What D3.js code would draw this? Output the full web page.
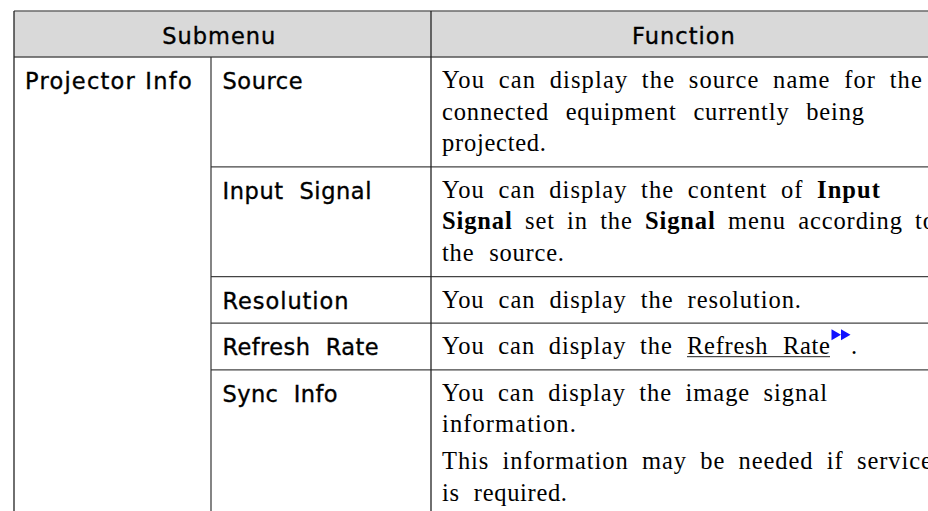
<!DOCTYPE html>
<html><head><meta charset="utf-8">
<script src="https://cdn.jsdelivr.net/npm/d3@7"></script>
<style>body{margin:0;background:#fff;overflow:hidden}</style>
</head><body><svg id="c" width="928" height="511"></svg>
<script>
// ---- data ----
const headers = ["Submenu", "Function"];
const groupLabels = ["Projector Info"];
const submenuItems = ["Source", "Input  Signal", "Resolution", "Refresh  Rate", "Sync  Info"];
// each line: array of runs [text, style]; "para" marks start of new paragraph
const functionLines = [
  [
    {runs: [["You can display the source name for the"]]},
    {runs: [["connected equipment currently being"]]},
    {runs: [["projected."]]}
  ],
  [
    {runs: [["You can display the content of "], ["Input", "b"]]},
    {runs: [["Signal", "b"], [" set in the "], ["Signal", "b"], [" menu according to"]]},
    {runs: [["the source."]]}
  ],
  [
    {runs: [["You can display the resolution."]]}
  ],
  [
    {runs: [["You can display the "], ["Refresh Rate", "u"], ["."]], icon: true}
  ],
  [
    {runs: [["You can display the image signal"]]},
    {runs: [["information."]]},
    {runs: [["This information may be needed if service"]], para: true},
    {runs: [["is required."]]}
  ]
];

// ---- layout ----
const W = 928, H = 511;
const svg = d3.select("#c");
const lineH = 31.6, rowPad = 15, paraGap = 5, headH = 46;
const top0 = 11;
const colEdges = d3.scaleOrdinal(["left", "c2", "c3", "right"], [14, 211, 431, 937]);

const rowHeights = functionLines.map(ls => ls.length * lineH + rowPad + (ls.some(l => l.para) ? paraGap : 0));
const rowTops = [];
rowHeights.reduce((acc, h) => { rowTops.push(acc); return acc + h; }, top0 + headH);
const yRow = d3.scaleOrdinal(submenuItems, rowTops);
const rowBottom = d3.scaleOrdinal(submenuItems, rowTops.map((t, i) => t + rowHeights[i]));

// measured widths (for spacing fit)
const sansWidths = {"Submenu": 113, "Function": 104, "Projector Info": 168, "Source": 80,
  "Input  Signal": 149, "Resolution": 126, "Refresh  Rate": 156, "Sync  Info": 115};
const serifWidths = [[481, 422, 104], [439, 493, 122], [359], [231], [385, 135, 490, 125]];

const sans = "'DejaVu Sans', sans-serif";
const serif = "'Liberation Serif', 'DejaVu Serif', serif";
const sansSize = 22.5, serifSize = 24.5;

// fit a text element to target width: spread extra over letters and spaces
function fit(sel, target, wordShare) {
  const node = sel.node();
  const w = node.getComputedTextLength();
  const str = node.textContent;
  const nChars = str.length;
  const nSpaces = (str.match(/ /g) || []).length;
  const extra = target - w;
  if (extra <= 0) { sel.attr("textLength", target).attr("lengthAdjust", "spacingAndGlyphs"); return; }
  let ws = 0, ls;
  if (nSpaces > 0) {
    ws = extra * wordShare / nSpaces;
    ls = extra * (1 - wordShare) / (nChars - 1);
  } else {
    ls = extra / (nChars - 1);
  }
  sel.style("letter-spacing", ls + "px").style("word-spacing", ws + "px");
  const w2 = node.getComputedTextLength();
  if (Math.abs(w2 - target) > 1) sel.attr("textLength", target).attr("lengthAdjust", "spacing");
}

// header background
svg.append("rect").attr("x", colEdges("left")).attr("y", top0)
  .attr("width", colEdges("right") - colEdges("left")).attr("height", headH)
  .attr("fill", "#d9d9d9");

function sansText(cls, data, xf, yf) {
  return svg.selectAll("text." + cls).data(data).join("text").attr("class", cls)
    .attr("x", xf).attr("y", yf)
    .attr("font-family", sans).attr("font-size", sansSize).attr("fill", "#000")
    .attr("stroke", "#000").attr("stroke-width", 0.35)
    .style("white-space", "pre")
    .text(d => d)
    .each(function(d) { fit(d3.select(this), sansWidths[d], 0.05); });
}

const headerStarts = [162.3, 632];
sansText("h", headers, (d, i) => headerStarts[i], top0 + 33);
sansText("g", groupLabels, 25, yRow(submenuItems[0]) + 32);
sansText("s", submenuItems, 222.5, d => yRow(d) + 32);

// function text
const textX = 442;
functionLines.forEach((lines, ri) => {
  let base = yRow(submenuItems[ri]) + 31;
  lines.forEach((ln, li) => {
    if (li > 0) base += lineH + (ln.para ? paraGap : 0);
    const t = svg.append("text").attr("x", textX).attr("y", base)
      .attr("font-family", serif).attr("font-size", serifSize).attr("fill", "#000")
      .style("white-space", "pre");
    if (ln.icon) {
      t.text(ln.runs[0][0].trim());
      fit(t, serifWidths[ri][li], 0.5);
      const lx0 = 687, lx1 = 830;
      const link = svg.append("text").attr("x", lx0).attr("y", base)
        .attr("font-family", serif).attr("font-size", serifSize).attr("fill", "#000")
        .style("white-space", "pre").text(ln.runs[1][0]);
      fit(link, lx1 - lx0, 0.5);
      svg.append("line").attr("x1", lx0).attr("x2", lx1).attr("y1", base + 2.5).attr("y2", base + 2.5)
        .attr("stroke", "#222").attr("stroke-width", 1);
      const iy0 = base - 25, iy1 = base - 14;
      [831.5, 841].forEach(x0 => {
        svg.append("path").attr("d", `M${x0},${iy0}L${x0 + 9.5},${(iy0 + iy1) / 2}L${x0},${iy1}Z`).attr("fill", "#1010ff");
      });
      svg.append("text").attr("x", 851).attr("y", base)
        .attr("font-family", serif).attr("font-size", serifSize).attr("fill", "#000").text(ln.runs[2][0]);
    } else {
      ln.runs.forEach(r => {
        t.append("tspan").attr("font-weight", r[1] === "b" ? "bold" : null).text(r[0]);
      });
      fit(t, serifWidths[ri][li], 0.5);
    }
  });
});

// grid lines
const g = svg.append("g").attr("fill", "none");
g.append("line").attr("x1", colEdges("left")).attr("x2", colEdges("right")).attr("y1", top0).attr("y2", top0)
  .attr("stroke", "#6a6a6a").attr("stroke-width", 1.3);
g.append("line").attr("x1", colEdges("left")).attr("x2", colEdges("right")).attr("y1", top0 + headH).attr("y2", top0 + headH)
  .attr("stroke", "#555").attr("stroke-width", 1.3);
g.selectAll("line.r").data(submenuItems.slice(0, -1)).join("line").attr("class", "r")
  .attr("x1", colEdges("c2")).attr("x2", colEdges("right"))
  .attr("y1", d => rowBottom(d)).attr("y2", d => rowBottom(d))
  .attr("stroke", "#444").attr("stroke-width", 1.2);
g.append("line").attr("x1", colEdges("left")).attr("x2", colEdges("left")).attr("y1", top0).attr("y2", H + 5)
  .attr("stroke", "#222").attr("stroke-width", 1.3);
g.append("line").attr("x1", colEdges("c2")).attr("x2", colEdges("c2")).attr("y1", top0 + headH).attr("y2", H + 5)
  .attr("stroke", "#333").attr("stroke-width", 1.2);
g.append("line").attr("x1", colEdges("c3")).attr("x2", colEdges("c3")).attr("y1", top0).attr("y2", H + 5)
  .attr("stroke", "#222").attr("stroke-width", 1.3);
</script></body></html>
